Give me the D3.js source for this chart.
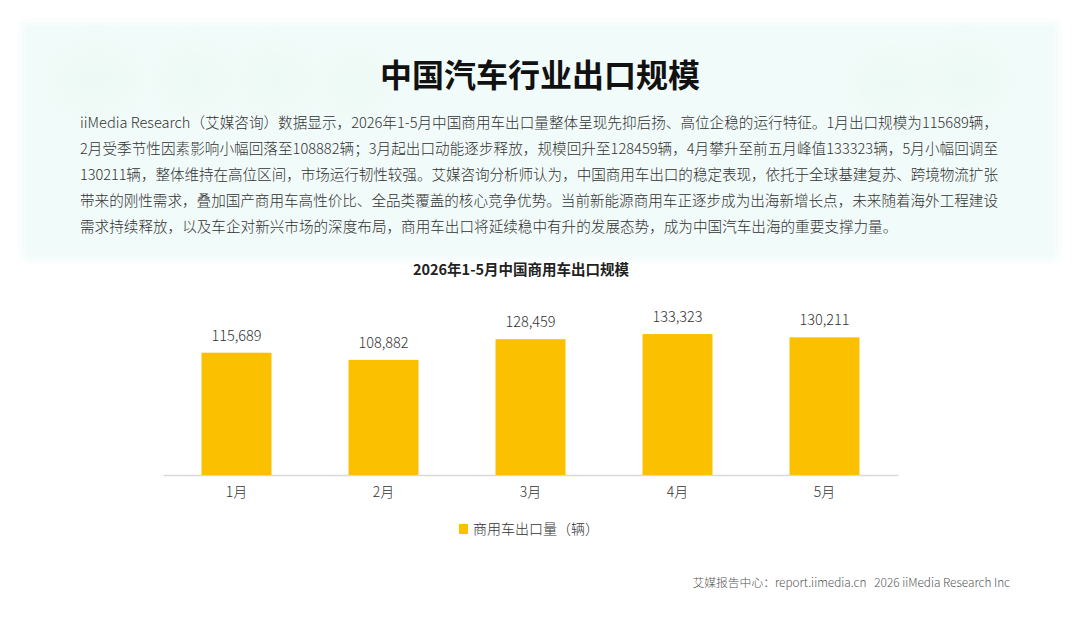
<!DOCTYPE html>
<html>
<head>
<meta charset="utf-8">
<script src="https://cdn.jsdelivr.net/npm/d3@7"></script>
<style>
  html, body { margin: 0; padding: 0; background: #fff; }
  svg { display: block; font-family: "Noto Sans CJK SC", "Noto Sans", sans-serif; }
</style>
</head>
<body>
<svg id="chart"></svg>
<script>
// chart data
var months = ['1月', '2月', '3月', '4月', '5月'];
var exports = [115689, 108882, 128459, 133323, 130211];
var seriesName = '商用车出口量（辆）';

var title = '中国汽车行业出口规模';
var chartTitle = '2026年1-5月中国商用车出口规模';
var paragraph = [
  'iiMedia Research（艾媒咨询）数据显示，2026年1-5月中国商用车出口量整体呈现先抑后扬、高位企稳的运行特征。1月出口规模为115689辆，',
  '2月受季节性因素影响小幅回落至108882辆；3月起出口动能逐步释放，规模回升至128459辆，4月攀升至前五月峰值133323辆，5月小幅回调至',
  '130211辆，整体维持在高位区间，市场运行韧性较强。艾媒咨询分析师认为，中国商用车出口的稳定表现，依托于全球基建复苏、跨境物流扩张',
  '带来的刚性需求，叠加国产商用车高性价比、全品类覆盖的核心竞争优势。当前新能源商用车正逐步成为出海新增长点，未来随着海外工程建设',
  '需求持续释放，以及车企对新兴市场的深度布局，商用车出口将延续稳中有升的发展态势，成为中国汽车出海的重要支撑力量。'
];
var footer = '艾媒报告中心：report.iimedia.cn\u00a0\u00a0\u00a02026 iiMedia Research Inc';

var W = 1080, H = 623;
var svg = d3.select('#chart').attr('width', W).attr('height', H);

// soft mint header panel
var defs = svg.append('defs');
defs.append('filter').attr('id', 'soft').attr('x', '-10%').attr('y', '-20%').attr('width', '120%').attr('height', '140%')
  .append('feGaussianBlur').attr('stdDeviation', 4);
defs.append('filter').attr('id', 'blob').attr('x', '-50%').attr('y', '-50%').attr('width', '200%').attr('height', '200%')
  .append('feGaussianBlur').attr('stdDeviation', 14);

svg.append('rect')
  .attr('x', 22).attr('y', 22).attr('width', 1036).attr('height', 238)
  .attr('fill', '#f1fbf9')
  .attr('filter', 'url(#soft)');

var blobs = [[60, 55, 70], [165, 55, 60], [245, 55, 60], [330, 60, 50], [860, 60, 60], [930, 55, 70]];
svg.append('g').selectAll('rect').data(blobs).join('rect')
  .attr('x', function(d) { return d[0]; })
  .attr('y', function(d) { return d[1]; })
  .attr('width', function(d) { return d[2]; })
  .attr('height', 50)
  .attr('rx', 20)
  .attr('fill', '#e8f8ee')
  .attr('opacity', 0.45)
  .attr('filter', 'url(#blob)');

// titles
svg.append('text')
  .attr('x', 540).attr('y', 87)
  .attr('text-anchor', 'middle')
  .attr('font-size', 32).attr('font-weight', 700)
  .attr('fill', '#111')
  .text(title);

svg.append('g').selectAll('text').data(paragraph).join('text')
  .attr('x', 80)
  .attr('y', function(d, i) { return 128 + i * 26; })
  .attr('font-size', 14.6)
  .attr('font-weight', 300)
  .attr('fill', '#333')
  .attr('textLength', function(d, i) { return i < 4 ? 918 : null; })
  .attr('lengthAdjust', 'spacing')
  .text(function(d) { return d; });

svg.append('text')
  .attr('x', 521).attr('y', 275)
  .attr('text-anchor', 'middle')
  .attr('font-size', 14.5).attr('font-weight', 700)
  .attr('fill', '#222')
  .text(chartTitle);

// scales
var x = d3.scaleBand().domain(months).range([163, 898]);
var y = d3.scaleLinear().domain([0, 140000]).range([475, 327]);
var barW = x.bandwidth() * 0.476;

var xAxis = svg.append('g')
  .attr('transform', 'translate(0,' + y(0) + ')')
  .call(d3.axisBottom(x).tickSize(0).tickSizeOuter(0).tickPadding(12));
xAxis.select('.domain').attr('stroke', '#d9d9d9').attr('stroke-width', 1.5);
xAxis.selectAll('text')
  .attr('font-size', 14).attr('fill', '#333').attr('font-weight', 300)
  .attr('font-family', '"Noto Sans CJK SC", "Noto Sans", sans-serif');

svg.append('g').selectAll('rect').data(exports).join('rect')
  .attr('x', function(d, i) { return x(months[i]) + (x.bandwidth() - barW) / 2; })
  .attr('y', function(d) { return y(d); })
  .attr('width', barW)
  .attr('height', function(d) { return y(0) - y(d); })
  .attr('fill', '#fbc000');

svg.append('g').selectAll('text').data(exports).join('text')
  .attr('x', function(d, i) { return x(months[i]) + x.bandwidth() / 2; })
  .attr('y', function(d) { return y(d) - 12; })
  .attr('text-anchor', 'middle')
  .attr('font-size', 14.5).attr('font-weight', 300)
  .attr('fill', '#333')
  .text(function(d) { return d3.format(',')(d); });

// legend
var legend = svg.append('g').attr('transform', 'translate(459,529)');
legend.append('rect').attr('x', 0).attr('y', -5).attr('width', 9).attr('height', 10).attr('fill', '#fbc000');
legend.append('text').attr('x', 14).attr('y', 5)
  .attr('font-size', 14).attr('fill', '#333').attr('font-weight', 300)
  .text(seriesName);

// footer
svg.append('text')
  .attr('x', 1010).attr('y', 587)
  .attr('text-anchor', 'end')
  .attr('font-size', 11.8).attr('fill', '#555').attr('font-weight', 300)
  .text(footer);
</script>
</body>
</html>
